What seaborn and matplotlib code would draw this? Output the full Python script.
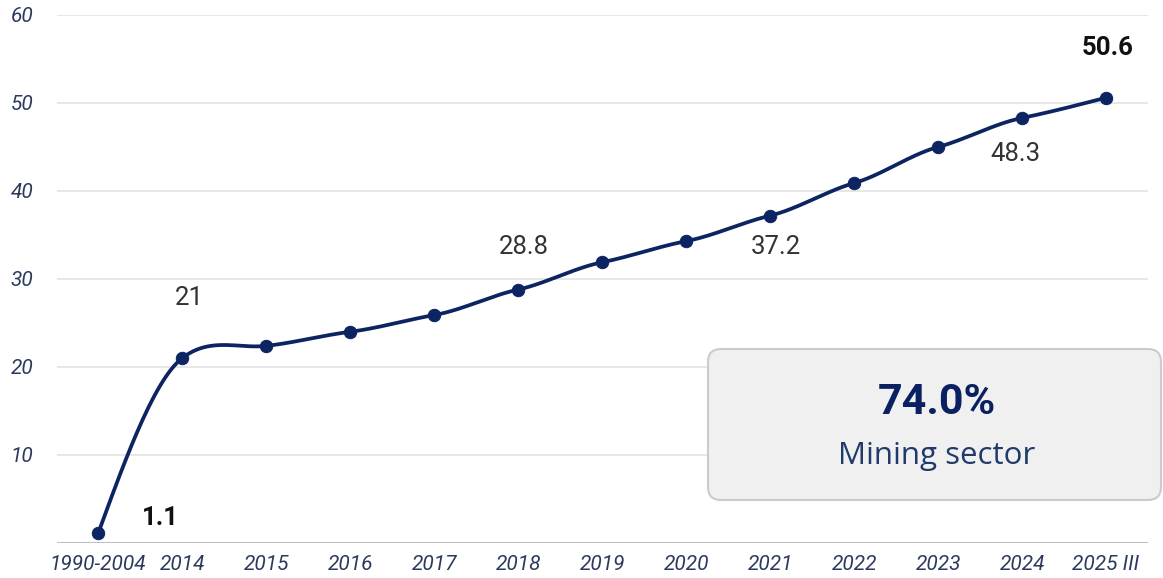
import matplotlib
matplotlib.use("Agg")
import matplotlib.pyplot as plt
from matplotlib.patches import FancyBboxPatch
import numpy as np
import seaborn as sns

# Data
periods = ["1990-2004", "2014", "2015", "2016", "2017", "2018", "2019",
           "2020", "2021", "2022", "2023", "2024", "2025 III"]
values = [1.1, 21.0, 22.4, 24.0, 25.9, 28.8, 31.9, 34.3, 37.2, 40.9, 45.0, 48.3, 50.6]

# which points get a value label, and how it is placed (offset in px, bold)
label_style = {
    0: (62, 15, True),
    1: (7, 60, False),
    5: (6, 43, False),
    8: (6, -31, False),
    11: (-7, -36, False),
    12: (2, 50, True),
}

share_text = "74.0%"
share_caption = "Mining sector"

navy = "#0d2462"
tick_col = "#2b3a5c"

sns.set_theme(style="white")
plt.rcParams["font.family"] = ["Roboto", "DejaVu Sans"]

fig = plt.figure(figsize=(11.63, 5.78), dpi=100)
ax = fig.add_axes([57 / 1163, 1 - 543 / 578, (1148 - 57) / 1163, (543 - 15) / 578])

x = np.arange(len(values))
y = np.array(values)


# cardinal spline through the points for the smooth line
def smooth(x, y, tension=0.7, n=30):
    m = np.zeros_like(y)
    m[1:-1] = tension * (y[2:] - y[:-2]) / 2
    m[0] = 1.5 * (y[1] - y[0]) - m[1] / 2
    m[-1] = 1.5 * (y[-1] - y[-2]) - m[-2] / 2
    xs, ys = [], []
    for i in range(len(x) - 1):
        t = np.linspace(0, 1, n, endpoint=(i == len(x) - 2))
        h00 = 2 * t**3 - 3 * t**2 + 1
        h10 = t**3 - 2 * t**2 + t
        h01 = -2 * t**3 + 3 * t**2
        h11 = t**3 - t**2
        xs.append(x[i] + t)
        ys.append(h00 * y[i] + h10 * m[i] + h01 * y[i + 1] + h11 * m[i + 1])
    return np.concatenate(xs), np.concatenate(ys)


xs, ys = smooth(x.astype(float), y)

for v in range(10, 61, 10):
    ax.axhline(v, color="#e3e3e3", lw=1.2, zorder=0)
ax.axhline(0, color="#b9c0cc", lw=1.5, zorder=1)

sns.lineplot(x=xs, y=ys, sort=False, color=navy, lw=2.7, ax=ax, zorder=3)
sns.scatterplot(x=x, y=y, color=navy, s=80, edgecolor=navy, ax=ax, zorder=4)

for i, (dx, dy, bold) in label_style.items():
    ax.annotate(f"{values[i]:g}", (x[i], y[i]), xytext=(dx * 0.72, dy * 0.72),
                textcoords="offset points", ha="center", va="center",
                fontsize=18.5, fontweight="bold" if bold else "normal",
                color="#111111" if bold else "#333333", zorder=5)

ax.set_xlim(-0.49, 12.5)
ax.set_ylim(0, 60)
ax.set_xticks(x)
ax.set_xticklabels(periods)
ax.set_yticks(range(10, 61, 10))
ax.tick_params(axis="both", length=0, labelsize=15, labelcolor=tick_col)
ax.tick_params(axis="x", pad=9)
ax.tick_params(axis="y", pad=17)
for lab in ax.get_xticklabels() + ax.get_yticklabels():
    lab.set_fontstyle("italic")
for s in ax.spines.values():
    s.set_visible(False)

# summary box
box = FancyBboxPatch((7.08, 0.78), 4.53, 1.51, boxstyle="round,pad=0,rounding_size=0.13",
                     transform=fig.dpi_scale_trans, facecolor="#f0f0f0",
                     edgecolor="#cbcbcb", lw=1.5, zorder=10)
fig.patches.append(box)
fig.text(937 / 1163, 1 - 403 / 578, share_text, ha="center", va="center",
         fontsize=31, fontweight="bold", color="#0a2060", zorder=11,
         family=["Roboto", "DejaVu Sans"])
fig.text(937 / 1163, 1 - 456 / 578, share_caption, ha="center", va="center",
         fontsize=22.5, color="#1f3a6b", zorder=11, family=["Open Sans", "DejaVu Sans"])

fig.savefig("out.png", dpi=100)
